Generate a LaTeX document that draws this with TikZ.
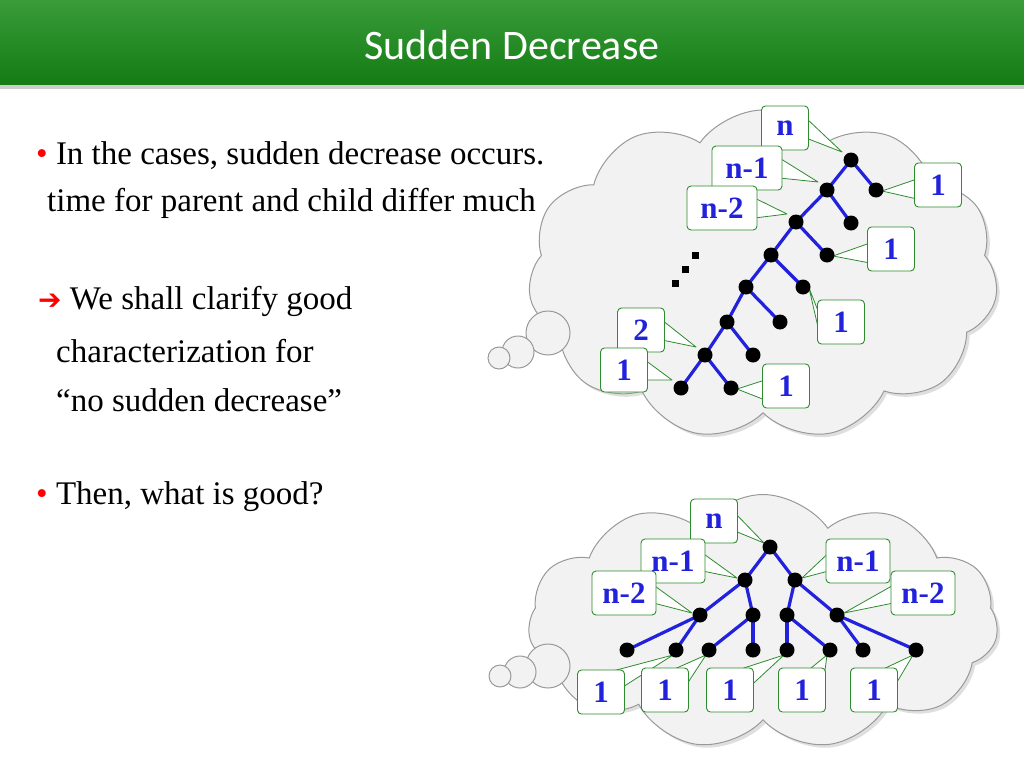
\documentclass[tikz,border=0pt]{standalone}
\usepackage{fontspec}
\setmainfont{Liberation Serif}
\newfontfamily\titlefont{Carlito}
\newfontfamily\symfont{DejaVu Sans}
\usetikzlibrary{shapes.symbols,calc,shadows}
\pgfdeclarelayer{bgl}\pgfdeclarelayer{midl}
\pgfsetlayers{bgl,midl,main}
\definecolor{tgreen}{HTML}{168A16}
\definecolor{cgreen}{HTML}{2E8B2E}
\definecolor{tblue}{HTML}{2222DD}
\tikzset{
 dot/.style={circle,fill=black,inner sep=0pt,minimum size=15pt},
 edge/.style={draw=tblue,line width=3.2pt},
 lbl/.style={draw=cgreen,fill=white,rounded corners=4pt,line width=0.9pt,minimum width=47pt,minimum height=44pt,inner sep=0pt,font=\fontsize{31}{31}\selectfont\bfseries,text=tblue},
 wedge/.style={draw=cgreen,fill=white,line width=0.8pt,line join=round},
 cloudy/.style={cloud,cloud puffs=11,cloud puff arc=110,draw=gray!80,fill=gray!10,line width=1pt,drop shadow={opacity=0.25,shadow xshift=3pt,shadow yshift=-3pt}},
 bubble/.style={circle,draw=gray!80,fill=gray!10,line width=1pt,inner sep=0pt},
 body/.style={anchor=west,font=\fontsize{33}{33}\selectfont,inner sep=0pt},
 bul/.style={text=red,font=\fontsize{40}{40}\selectfont}
}
\begin{document}
\begin{tikzpicture}[x=1pt,y=-1pt]
\useasboundingbox (0,0) rectangle (1024,768);
\shade[top color=tgreen!85!white,bottom color=tgreen!90!black] (0,0) rectangle (1024,85);
\fill[gray!40] (0,85) rectangle (1024,89);
\node[text=white,font=\titlefont\fontsize{42}{42}\selectfont] (title) at (512,45) {Sudden Decrease};
% left text
\node[body] (t1) at (36,156) {\textcolor{red}{•} In the cases, sudden decrease occurs.};
\node[body] (t2) at (47,203) {time for parent and child differ much};
\node[body] (t3) at (38,301) {\textcolor{red}{\symfont\fontsize{28}{28}\selectfont ➔}\ We shall clarify good};
\node[body] (t4) at (56,351) {characterization for};
\node[body] (t5) at (56,400) {“no sudden decrease”};
\node[body] (t6) at (36,497) {\textcolor{red}{•} Then, what is good?};
% clouds
\begin{pgfonlayer}{bgl}
\node[cloudy,minimum width=470pt,minimum height=330pt] (c1) at (763,275) {};
\node[bubble,minimum size=44pt] (b13) at (548,333) {};
\node[bubble,minimum size=32pt] (b12) at (518,352) {};
\node[bubble,minimum size=22pt] (b11) at (499,358) {};
\node[cloudy,minimum width=470pt,minimum height=255pt] (c2) at (763,622) {};
\node[bubble,minimum size=44pt] (b23) at (548,666) {};
\node[bubble,minimum size=32pt] (b22) at (520,672) {};
\node[bubble,minimum size=22pt] (b21) at (500,676) {};
\end{pgfonlayer}
% dots of ellipsis
\fill (672,280) rectangle +(7,7);
\fill (682,266) rectangle +(7,7);
\fill (692,252) rectangle +(7,7);
% top tree
\foreach \n/\x/\y in {a/851/160,b/827/190,c/876/190,d/796/222,e/851/223,f/771/255,g/827/255,h/746/287,i/803/287,j/727/322,k/780/322,l/705/355,m/753/355,o/681/388,p/731/388}
  \node[dot] (T\n) at (\x,\y) {};
\begin{pgfonlayer}{midl}
\foreach \u/\v in {a/b,b/d,d/f,f/h,h/j,j/l,l/o,a/c,b/e,d/g,f/i,h/k,j/m,l/p}
  \draw[edge] (T\u.center) -- (T\v.center);
\end{pgfonlayer}
% top labels
\node[lbl] (L1) at (785,128) {n};
\node[lbl,minimum width=70pt] (L2) at (747,168) {n-1};
\node[lbl,minimum width=70pt] (L3) at (722,208) {n-2};
\node[lbl] (L4) at (938,185) {1};
\node[lbl] (L5) at (891,249) {1};
\node[lbl] (L6) at (841,322) {1};
\node[lbl] (L7) at (641,330) {2};
\node[lbl] (L8) at (624,370) {1};
\node[lbl] (L9) at (786,386) {1};
\begin{pgfonlayer}{midl}
\foreach \b/\t in {L1/Ta,L2/Tb,L3/Td,L7/Tl,L8/To}
  \draw[wedge] ($(\b.east)+(-3,-10)$) -- ($(\t.center)+(-9,-8)$) -- ($(\b.east)+(-3,10)$) -- cycle;
\foreach \b/\t in {L4/Tc,L5/Tg,L6/Ti,L9/Tp}
  \draw[wedge] ($(\b.west)+(3,-6)$) -- ($(\t.center)+(6,1)$) -- ($(\b.west)+(3,14)$) -- cycle;
\end{pgfonlayer}
% bottom tree
\foreach \n/\x/\y in {a/770/547,b/745/580,c/795/580,d/700/615,e/753/615,f/787/615,g/837/615,h/627/650,i/676/650,j/709/650,k/753/650,l/787/650,m/830/650,o/863/650,p/916/650}
  \node[dot] (B\n) at (\x,\y) {};
\begin{pgfonlayer}{midl}
\foreach \u/\v in {a/b,a/c,b/d,b/e,c/f,c/g,d/h,d/i,e/j,e/k,f/l,f/m,g/o,g/p}
  \draw[edge] (B\u.center) -- (B\v.center);
\end{pgfonlayer}
\node[lbl] (M1) at (714,521) {n};
\node[lbl,minimum width=64pt] (M2) at (673,561) {n-1};
\node[lbl,minimum width=64pt] (M3) at (624,593) {n-2};
\node[lbl,minimum width=64pt] (M4) at (858,561) {n-1};
\node[lbl,minimum width=64pt] (M5) at (923,593) {n-2};
\node[lbl] (M6) at (601,692) {1};
\node[lbl] (M7) at (665,690) {1};
\node[lbl] (M8) at (730,690) {1};
\node[lbl] (M9) at (802,690) {1};
\node[lbl] (M10) at (874,690) {1};
\begin{pgfonlayer}{midl}
\draw[wedge] ($(M1.east)+(-3,-8)$) -- ($(Ba.center)+(-6,-4)$) -- ($(M1.east)+(-3,10)$) -- cycle;
\draw[wedge] ($(M2.east)+(-3,-8)$) -- ($(Bb.center)+(-8,-2)$) -- ($(M2.east)+(-3,10)$) -- cycle;
\draw[wedge] ($(M3.east)+(-3,-8)$) -- ($(Bd.center)+(-8,-2)$) -- ($(M3.east)+(-3,10)$) -- cycle;
\draw[wedge] ($(M4.west)+(3,-8)$) -- ($(Bc.center)+(7,-2)$) -- ($(M4.west)+(3,10)$) -- cycle;
\draw[wedge] ($(M5.west)+(3,-8)$) -- ($(Bg.center)+(7,-2)$) -- ($(M5.west)+(3,10)$) -- cycle;
\foreach \b/\t in {M6/Bi,M7/Bj,M8/Bl,M9/Bm,M10/Bp}
  \draw[wedge] ($(\b.north east)+(-18,3)$) -- ($(\t.center)+(-3,5)$) -- ($(\b.north east)+(-3,18)$) -- cycle;
\end{pgfonlayer}
\end{tikzpicture}
\end{document}
